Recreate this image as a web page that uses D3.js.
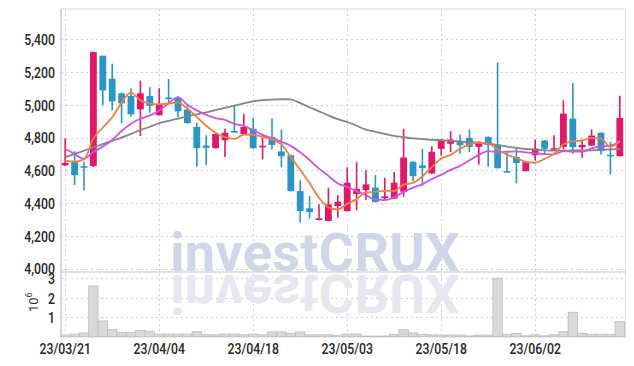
<!DOCTYPE html>
<html><head><meta charset="utf-8">
<script src="https://cdn.jsdelivr.net/npm/d3@7"></script>
<style>
html,body{margin:0;padding:0;background:#fff;}
svg{display:block;}
</style></head>
<body>
<svg id="c" width="634" height="366"></svg>
<script>
const dates = ["2023-03-21","2023-03-22","2023-03-23","2023-03-24","2023-03-27","2023-03-28","2023-03-29","2023-03-30","2023-03-31",
"2023-04-03","2023-04-04","2023-04-05","2023-04-06","2023-04-07","2023-04-10","2023-04-11","2023-04-12","2023-04-13","2023-04-14","2023-04-17","2023-04-18","2023-04-19","2023-04-20","2023-04-21","2023-04-24","2023-04-25","2023-04-26","2023-04-27","2023-04-28",
"2023-05-02","2023-05-03","2023-05-04","2023-05-08","2023-05-09","2023-05-10","2023-05-11","2023-05-12","2023-05-15","2023-05-16","2023-05-17","2023-05-18","2023-05-19","2023-05-22","2023-05-23","2023-05-24","2023-05-25","2023-05-26","2023-05-30","2023-05-31",
"2023-06-01","2023-06-02","2023-06-05","2023-06-07","2023-06-08","2023-06-09","2023-06-12","2023-06-13","2023-06-14","2023-06-15","2023-06-16"];
const open  = [4630,4652,4625,4626,5300,5159,5070,5054,4972,5054,4936,5045,5042,4971,4865,4751,4735,4784,4840,4822,
               4853,4740,4804,4715,4692,4473,4368,4297,4291,4382,4351,4455,4479,4494,4429,4427,4469,4652,4630,4581,
               4731,4762,4772,4798,4743,4804,4755,4595,4682,4595,4693,4782,4729,4743,4916,4741,4751,4829,4695,4686];
const high  = [4795,4717,4652,5325,5300,5251,5075,5101,5147,5107,5101,5157,5052,4991,4889,4814,4825,4853,4999,4946,
               4920,4824,4918,4849,4695,4540,4443,4392,4494,4447,4619,4650,4601,4571,4554,4589,4853,4655,4731,4747,
               4790,4839,4818,4849,4776,4806,5259,4707,4737,4652,4788,4784,4814,5027,5133,4788,4849,4831,4774,5056];
const low   = [4625,4510,4477,4620,4997,4967,4887,4927,4809,4952,4936,5001,4926,4883,4621,4632,4733,4682,4834,4820,
               4733,4666,4727,4617,4470,4280,4305,4295,4289,4311,4349,4355,4418,4404,4416,4425,4439,4534,4504,4578,
               4690,4711,4701,4711,4636,4621,4611,4588,4520,4593,4660,4701,4727,4727,4701,4676,4749,4697,4575,4684];
const close = [4645,4571,4620,5322,5088,5021,5009,4942,5070,4993,5000,5040,4960,4889,4735,4737,4822,4829,4836,4865,
               4735,4750,4755,4686,4473,4351,4345,4307,4392,4408,4524,4487,4514,4406,4441,4524,4678,4565,4614,4713,
               4788,4788,4753,4743,4774,4755,4613,4591,4644,4650,4733,4731,4735,4946,4741,4755,4812,4717,4688,4920];
const ma5   = [4659,4653,4667,4795,4860,4924,5012,5076,5026,5007,5003,5009,5013,4976,4925,4872,4829,4802,4792,4818,
               4817,4803,4788,4758,4680,4603,4522,4432,4374,4361,4395,4424,4465,4468,4474,4474,4513,4523,4564,4619,
               4672,4694,4731,4757,4769,4763,4728,4695,4675,4651,4646,4670,4699,4759,4777,4782,4798,4794,4743,4778];
const ma10  = [4731,4700,4670,4712,4745,4785,4840,4885,4915,4935,4964,5011,5045,5001,4966,4938,4919,4908,4884,4871,
               4845,4816,4795,4775,4749,4710,4663,4610,4566,4520,4499,4473,4449,4421,4418,4435,4468,4494,4516,4547,
               4573,4603,4627,4661,4694,4717,4711,4713,4716,4710,4704,4699,4697,4717,4714,4714,4734,4746,4751,4778];
const maLong= [4680,4700,4720,4740,4760,4780,4800,4822,4845,4866,4888,4902,4916,4930,4942,4954,4967,4981,4995,5008,
               5021,5028,5032,5034,5033,5010,4985,4960,4935,4912,4895,4872,4848,4835,4822,4810,4802,4795,4790,4786,
               4783,4780,4776,4772,4768,4764,4755,4745,4737,4730,4726,4722,4720,4720,4721,4721,4722,4725,4728,4731];
const volume= [0.09,0.14,0.2,2.6,0.81,0.38,0.23,0.23,0.33,0.28,0.14,0.14,0.14,0.14,0.26,0.13,0.1,0.14,0.14,0.1,
               0.14,0.1,0.25,0.25,0.18,0.25,0.1,0.1,0.1,0.08,0.14,0.14,0.04,0.04,0.04,0.12,0.38,0.2,0.13,0.1,
               0.09,0.09,0.09,0.05,0.09,0.09,3.0,0.13,0.18,0.05,0.1,0.05,0.1,0.26,1.26,0.18,0.13,0.13,0.13,0.79];
const priceTicks = [4000,4200,4400,4600,4800,5000,5200,5400];
const volTicks = [1,2,3];
const dateTickIdx = [0,10,20,30,40,50];

const svg = d3.select("#c");
const L = 61, R = 625.5, T = 9, MID = 272, B = 336.8;
const FONT = "Roboto, 'Liberation Sans', sans-serif";

const x = d3.scaleBand().domain(dates).range([60.5, 624.5]).padding(0);
const xc = d => x(d) + x.bandwidth()/2;
const y = d3.scaleLinear().domain([3979, 5585]).range([MID, T]);
const yv = d3.scaleLinear().domain([0, 3.32]).range([B, MID]);

// grid
const grid = svg.append("g").attr("stroke","#c9cde0").attr("stroke-width",1).attr("stroke-dasharray","2,3");
priceTicks.forEach(t => grid.append("line").attr("x1",L).attr("x2",R).attr("y1",Math.round(y(t))+0.5).attr("y2",Math.round(y(t))+0.5));
volTicks.forEach(t => grid.append("line").attr("x1",L).attr("x2",R).attr("y1",Math.round(yv(t))+0.5).attr("y2",Math.round(yv(t))+0.5));
dateTickIdx.forEach(i => grid.append("line").attr("x1",Math.round(xc(dates[i]))+0.5).attr("x2",Math.round(xc(dates[i]))+0.5).attr("y1",T).attr("y2",B));

// watermark
const wmX = 315, wmY = 272;
svg.append("text").attr("x",wmX).attr("y",wmY-1).attr("text-anchor","middle")
  .attr("font-family","Roboto, 'DejaVu Sans', sans-serif").attr("font-weight","bold").attr("font-size",54)
  .attr("letter-spacing","0.3").attr("fill","#d0d6e7").text("investCRUX");
svg.append("text").attr("x",wmX).attr("y",-(wmY+3)).attr("text-anchor","middle")
  .attr("transform","scale(1,-1)")
  .attr("font-family","Roboto, 'DejaVu Sans', sans-serif").attr("font-weight","bold").attr("font-size",54)
  .attr("letter-spacing","0.3").attr("fill","#e6e7f0").text("investCRUX");

// frame
svg.append("rect").attr("x",L).attr("y",T).attr("width",R-L).attr("height",B-T)
  .attr("fill","none").attr("stroke","#dcdcdc").attr("stroke-width",1);
svg.append("line").attr("x1",L).attr("x2",L).attr("y1",T).attr("y2",B).attr("stroke","#cfcfcf").attr("stroke-width",1.5);
svg.append("line").attr("x1",L).attr("x2",R).attr("y1",MID).attr("y2",MID).attr("stroke","#c4c4c4").attr("stroke-width",1.2);

// volume
svg.append("g").selectAll("rect").data(dates).join("rect")
  .attr("x", d => x(d)).attr("width", x.bandwidth())
  .attr("y", (d,i) => yv(volume[i])).attr("height", (d,i) => B - yv(volume[i]))
  .attr("fill","#d9d9d9").attr("stroke","#bdbdbd").attr("stroke-width",0.8);

// candles
const UP = "#e2176c", DN = "#2b95c7";
const cg = svg.append("g");
dates.forEach((d,i) => {
  const c = close[i] >= open[i] ? UP : DN;
  const cx = xc(d);
  cg.append("line").attr("x1",cx).attr("x2",cx).attr("y1",y(high[i])).attr("y2",y(low[i])).attr("stroke",c).attr("stroke-width",1.6);
  const top = y(Math.max(open[i],close[i])), bot = y(Math.min(open[i],close[i]));
  cg.append("rect").attr("x",cx-3.4).attr("width",6.8).attr("y",top).attr("height",Math.max(1.6,bot-top)).attr("fill",c);
});

// moving averages
const line = arr => d3.line().x((d,i)=>xc(dates[i])).y(d=>y(d)).curve(d3.curveMonotoneX)(arr);
svg.append("path").attr("d",line(maLong)).attr("fill","none").attr("stroke","#858585").attr("stroke-width",1.8);
svg.append("path").attr("d",line(ma10)).attr("fill","none").attr("stroke","#cc52ea").attr("stroke-width",1.8);
svg.append("path").attr("d",line(ma5)).attr("fill","none").attr("stroke","#f0803f").attr("stroke-width",1.8);

// axes labels
const SX = "scale(0.82,1)";
const styleText = sel => sel.attr("font-family",FONT).attr("font-size",15).attr("font-weight",500)
  .attr("fill","#262626").attr("transform",SX);
const fmt = d3.format(",");
const yAxis = d3.axisLeft(y).tickValues(priceTicks).tickFormat(fmt).tickSize(0).tickPadding(0);
const ga = svg.append("g").attr("transform","translate(55,0)").call(yAxis);
ga.select(".domain").remove();
styleText(ga.selectAll("text")).attr("dy","0.36em");

const vAxis = d3.axisLeft(yv).tickValues(volTicks).tickFormat(d3.format("d")).tickSize(0).tickPadding(0);
const gv = svg.append("g").attr("transform","translate(55,0)").call(vAxis);
gv.select(".domain").remove();
styleText(gv.selectAll("text")).attr("dy","0.36em");

const vt = svg.append("text").attr("transform","translate(38,312) rotate(-90)")
  .attr("font-family",FONT).attr("font-size",13).attr("fill","#333");
vt.append("tspan").text("10");
vt.append("tspan").attr("dy",-6).attr("font-size",9).text("6");

const pf = d3.timeParse("%Y-%m-%d"), tf = d3.timeFormat("%y/%m/%d");
const xAxis = d3.axisBottom(x).tickValues(dateTickIdx.map(i=>dates[i])).tickFormat(d=>tf(pf(d))).tickSize(0).tickPadding(0);
const gx = svg.append("g").attr("transform","translate(0,343)").call(xAxis);
gx.select(".domain").remove();
styleText(gx.selectAll("text")).attr("dy","0.71em");
</script>
</body></html>
